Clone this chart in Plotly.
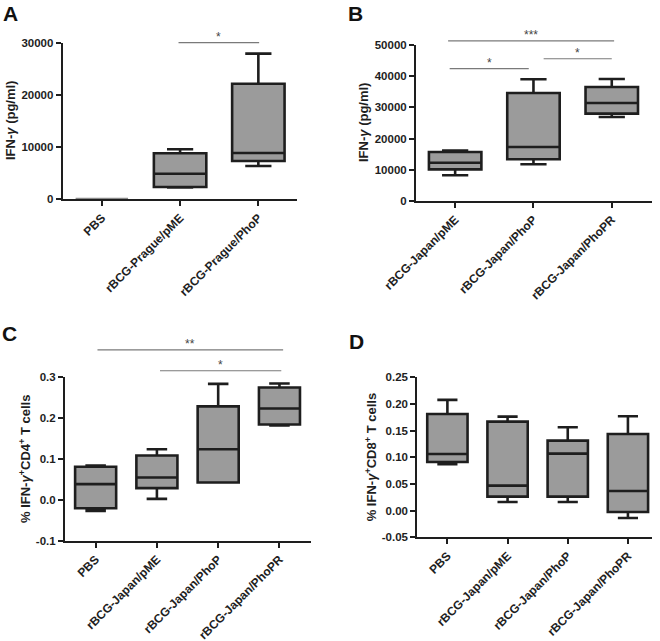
import plotly.graph_objects as go

W, H = 660, 641
FONT = "Liberation Sans, Arial, sans-serif"

# ---------------- data ----------------
A_categories = ["PBS", "rBCG-Prague/pME", "rBCG-Prague/PhoP"]
A_min = [150, 2250, 6380]
A_q1 = [150, 2360, 7340]
A_median = [150, 4900, 8870]
A_q3 = [150, 8810, 22150]
A_max = [150, 9580, 27900]
A_yticks = [0, 10000, 20000, 30000]
A_yticklabels = ["0", "10000", "20000", "30000"]

B_categories = ["rBCG-Japan/pME", "rBCG-Japan/PhoP", "rBCG-Japan/PhoPR"]
B_min = [8230, 11760, 26920]
B_q1 = [10150, 13360, 27990]
B_median = [12280, 17300, 31400]
B_q3 = [15700, 34600, 36540]
B_max = [16130, 39000, 39100]
B_yticks = [0, 10000, 20000, 30000, 40000, 50000]
B_yticklabels = ["0", "10000", "20000", "30000", "40000", "50000"]

C_categories = ["PBS", "rBCG-Japan/pME", "rBCG-Japan/PhoP", "rBCG-Japan/PhoPR"]
C_min = [-0.027, 0.0024, 0.0425, 0.182]
C_q1 = [-0.0204, 0.0286, 0.0425, 0.1846]
C_median = [0.0384, 0.0548, 0.124, 0.2238]
C_q3 = [0.081, 0.1087, 0.2288, 0.275]
C_max = [0.084, 0.124, 0.284, 0.285]
C_yticks = [-0.1, 0.0, 0.1, 0.2, 0.3]
C_yticklabels = ["-0.1", "0.0", "0.1", "0.2", "0.3"]

D_categories = ["PBS", "rBCG-Japan/pME", "rBCG-Japan/PhoP", "rBCG-Japan/PhoPR"]
D_min = [0.087, 0.0163, 0.0163, -0.0137]
D_q1 = [0.0913, 0.0263, 0.0263, -0.0025]
D_median = [0.1063, 0.0469, 0.1069, 0.0369]
D_q3 = [0.1813, 0.1669, 0.1313, 0.1438]
D_max = [0.2076, 0.1763, 0.1563, 0.177]
D_yticks = [-0.05, 0.0, 0.05, 0.10, 0.15, 0.20, 0.25]
D_yticklabels = ["-0.05", "0.00", "0.05", "0.10", "0.15", "0.20", "0.25"]

# significance brackets: (x start, x end, level, label)
A_sig = [(0.98, 2.01, 30000, "*")]
B_sig = [(-0.09, 2.03, 51300, "***"), (-0.07, 0.94, 42400, "*"), (1.13, 2.0, 45600, "*")]
C_sig = [(0.03, 3.06, 0.367, "**"), (1.05, 3.03, 0.316, "*")]
D_sig = []

panels = [
    dict(letter="A", cats=A_categories, mn=A_min, q1=A_q1, med=A_median, q3=A_q3, mx=A_max,
         yt=A_yticks, ytl=A_yticklabels, sig=A_sig,
         title="IFN-<i>γ</i> (pg/ml)",
         xpx=(62.7, 296.7), ypx=(42.7, 199.3), xr=(-0.5, 2.49), yr=(0, 30000),
         title_x=10, letter_pos=(10.5, 12.5)),
    dict(letter="B", cats=B_categories, mn=B_min, q1=B_q1, med=B_median, q3=B_q3, mx=B_max,
         yt=B_yticks, ytl=B_yticklabels, sig=B_sig,
         title="IFN-<i>γ</i> (pg/ml)",
         xpx=(416, 651.7), ypx=(45, 201), xr=(-0.5, 2.51), yr=(0, 50000),
         title_x=364, letter_pos=(355.5, 12.5)),
    dict(letter="C", cats=C_categories, mn=C_min, q1=C_q1, med=C_median, q3=C_q3, mx=C_max,
         yt=C_yticks, ytl=C_yticklabels, sig=C_sig,
         title="% IFN-<i>γ</i><sup>+</sup>CD4<sup>+</sup> T cells",
         xpx=(65, 310.7), ypx=(377.3, 540.7), xr=(-0.5, 3.51), yr=(-0.1, 0.3),
         title_x=25, letter_pos=(9.5, 332.5)),
    dict(letter="D", cats=D_categories, mn=D_min, q1=D_q1, med=D_median, q3=D_q3, mx=D_max,
         yt=D_yticks, ytl=D_yticklabels, sig=D_sig,
         title="% IFN-<i>γ</i><sup>+</sup>CD8<sup>+</sup> T cells",
         xpx=(417.3, 652), ypx=(377.3, 537.3), xr=(-0.5, 3.4), yr=(-0.05, 0.25),
         title_x=371, letter_pos=(356.5, 340)),
]

fig = go.Figure()
shapes = []
annotations = []


def dx2px(v, p):
    return p["xpx"][0] + (v - p["xr"][0]) / (p["xr"][1] - p["xr"][0]) * (p["xpx"][1] - p["xpx"][0])


def dy2px(v, p):
    return p["ypx"][1] - (v - p["yr"][0]) / (p["yr"][1] - p["yr"][0]) * (p["ypx"][1] - p["ypx"][0])


for i, p in enumerate(panels):
    n = i + 1
    sfx = "" if n == 1 else str(n)
    xa, ya = "x" + sfx, "y" + sfx
    idx = list(range(len(p["cats"])))
    normal = [k for k in idx if p["q3"][k] != p["q1"][k]]
    flat = [k for k in idx if p["q3"][k] == p["q1"][k]]
    for group, lc, lw in ((normal, "#1e1e1e", 2.6), (flat, "#8a8a8a", 1.6)):
        if not group:
            continue
        fig.add_trace(go.Box(
            x=group,
            q1=[p["q1"][k] for k in group],
            median=[p["med"][k] for k in group],
            q3=[p["q3"][k] for k in group],
            lowerfence=[p["mn"][k] for k in group],
            upperfence=[p["mx"][k] for k in group],
            xaxis=xa, yaxis=ya,
            fillcolor="#9b9b9b",
            line=dict(color=lc, width=lw),
            whiskerwidth=0.5, width=0.67,
            boxpoints=False, hoverinfo="skip", showlegend=False,
        ))

    fig.layout["xaxis" + sfx] = dict(
        domain=[p["xpx"][0] / W, p["xpx"][1] / W], range=list(p["xr"]), anchor=ya,
        automargin=False,
        tickmode="array", tickvals=idx, ticktext=p["cats"], tickangle=-45,
        ticks="outside", ticklen=5, tickwidth=2, tickcolor="#1e1e1e",
        showline=True, linewidth=2, linecolor="#1e1e1e",
        showgrid=False, zeroline=False,
        tickfont=dict(family=FONT, size=12, color="#1e1e1e", weight="bold"),
    )
    fig.layout["yaxis" + sfx] = dict(
        domain=[1 - p["ypx"][1] / H, 1 - p["ypx"][0] / H], range=list(p["yr"]), anchor=xa,
        automargin=False,
        tickmode="array", tickvals=p["yt"], ticktext=p["ytl"],
        ticks="outside", ticklen=5, tickwidth=2, tickcolor="#1e1e1e",
        showline=True, linewidth=2, linecolor="#1e1e1e",
        showgrid=False, zeroline=False,
        tickfont=dict(family=FONT, size=11.5, color="#1e1e1e", weight="bold"),
    )

    # y title
    annotations.append(dict(
        text=p["title"], textangle=-90, xref="paper", yref="paper",
        x=p["title_x"] / W, y=1 - (p["ypx"][0] + p["ypx"][1]) / 2 / H,
        xanchor="center", yanchor="middle", showarrow=False,
        font=dict(family=FONT, size=13, color="#1e1e1e", weight="bold"),
    ))
    # panel letter
    annotations.append(dict(
        text=p["letter"], xref="paper", yref="paper",
        x=p["letter_pos"][0] / W, y=1 - (p["letter_pos"][1] + 1) / H,
        xanchor="center", yanchor="middle", showarrow=False,
        font=dict(family=FONT, size=21, color="#111111", weight="bold"),
    ))
    # significance brackets
    for (x0, x1, lvl, lab) in p["sig"]:
        px0, px1, py = dx2px(x0, p), dx2px(x1, p), dy2px(lvl, p)
        shapes.append(dict(type="line", xref="paper", yref="paper",
                           x0=px0 / W, x1=px1 / W, y0=1 - py / H, y1=1 - py / H,
                           line=dict(color="#7a7a7a", width=1.2)))
        annotations.append(dict(
            text=lab, xref="paper", yref="paper",
            x=(px0 + px1) / 2 / W, y=1 - (py - 6) / H,
            xanchor="center", yanchor="middle", showarrow=False,
            font=dict(family=FONT, size=12, color="#444444"),
        ))

fig.update_layout(
    template="none",
    width=W, height=H,
    margin=dict(l=0, r=0, t=0, b=0, autoexpand=False),
    paper_bgcolor="white", plot_bgcolor="white",
    boxmode="overlay",
    shapes=shapes, annotations=annotations,
    showlegend=False,
)

fig.write_html(
    "out.html",
    config={"displayModeBar": False},
    post_script="document.body.style.margin='0';document.body.style.padding='0';",
)
